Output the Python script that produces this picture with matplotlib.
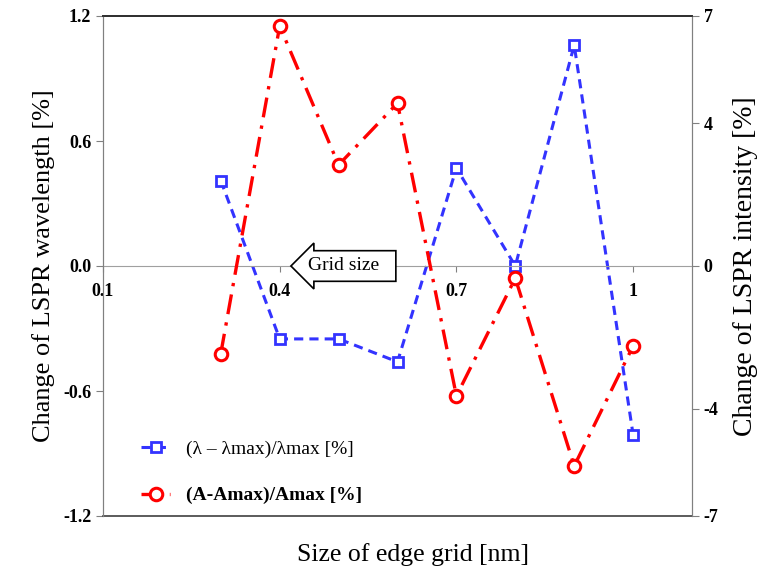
import matplotlib
matplotlib.use('Agg')
import matplotlib.pyplot as plt

plt.rcParams['font.family'] = ['Liberation Serif', 'DejaVu Serif']

# data
grid = [0.3, 0.4, 0.5, 0.6, 0.7, 0.8, 0.9, 1.0]
wl_change = [0.41, -0.35, -0.35, -0.46, 0.47, 0.0, 1.06, -0.81]
int_change = [-2.45, 6.72, 2.83, 4.56, -3.64, -0.34, -5.6, -2.24]

xticks = [0.1, 0.4, 0.7, 1.0]
xticklabels = ['0.1', '0.4', '0.7', '1']
yticks_l = [-1.2, -0.6, 0.0, 0.6, 1.2]
yticks_r = [-7, -4, 0, 4, 7]

blue = '#3333ff'
red = '#ff0000'

fig = plt.figure(figsize=(7.62, 5.8), dpi=100)
ax = fig.add_axes([103/762, 64/580, 589/762, 500/580])
ax2 = ax.twinx()

l1, = ax.plot(grid, wl_change, color=blue, linestyle=(0, (3, 2)), linewidth=2.2,
              marker='s', markersize=7, markerfacecolor='white', markeredgecolor=blue,
              markeredgewidth=2, label='(λ – λmax)/λmax [%]')
l2, = ax2.plot(grid, int_change, color=red, linestyle=(0, (6, 2.5, 1, 2.5)), linewidth=2.4,
               marker='o', markersize=9, markerfacecolor='white', markeredgecolor=red,
               markeredgewidth=2.2, label='(A-Amax)/Amax [%]')

ax.set_xlim(0.1, 1.1)
ax.set_ylim(-1.2, 1.2)
ax2.set_ylim(-7, 7)

# x axis sits on the zero line (set before the tick labels, it resets them)
ax.spines['bottom'].set_position(('data', 0))
ax.spines['bottom'].set_color('#a0a0a0')
ax.axhline(-1.2, color='#404040', linewidth=1.2, clip_on=False)

ax.set_yticks(yticks_l)
ax.set_yticklabels(['%.1f' % v for v in yticks_l], fontsize=13, fontweight='bold')
ax2.set_yticks(yticks_r)
ax2.set_yticklabels([str(v) for v in yticks_r], fontsize=13, fontweight='bold')

ax.set_xticks(xticks)
ax.set_xticklabels(xticklabels, fontsize=13, fontweight='bold')

ax.tick_params(axis='x', direction='out', length=4, color='#808080', pad=8)
ax.tick_params(axis='y', direction='out', length=5, color='#808080')
ax2.tick_params(axis='y', direction='out', length=5, color='#808080')

for a in (ax, ax2):
    a.spines['left'].set_color('#808080')
    a.spines['right'].set_color('#808080')
    a.spines['top'].set_color('#303030')
    a.spines['top'].set_linewidth(1.3)
ax2.spines['bottom'].set_visible(False)

ax.set_ylabel('Change of LSPR wavelength [%]', fontsize=19, labelpad=6)
ax2.set_ylabel('Change of LSPR intensity [%]', fontsize=20, labelpad=10)
fig.text(413/762, 1 - 555/580, 'Size of edge grid [nm]', fontsize=18.5,
         ha='center', va='center')

ax.text(0.517, 0.0, 'Grid size  ', fontsize=14, ha='center', va='center',
        bbox=dict(boxstyle='larrow,pad=0.35', facecolor='white',
                  edgecolor='black', linewidth=1.2), zorder=5)

leg = ax2.legend([l1, l2], [l1.get_label(), l2.get_label()], loc='lower left',
                 bbox_to_anchor=(0.035, -0.012), frameon=False, fontsize=14,
                 handlelength=1.5, labelspacing=1.5, handletextpad=0.8)
leg.get_texts()[1].set_fontweight('bold')

fig.savefig('out.png', dpi=100)
